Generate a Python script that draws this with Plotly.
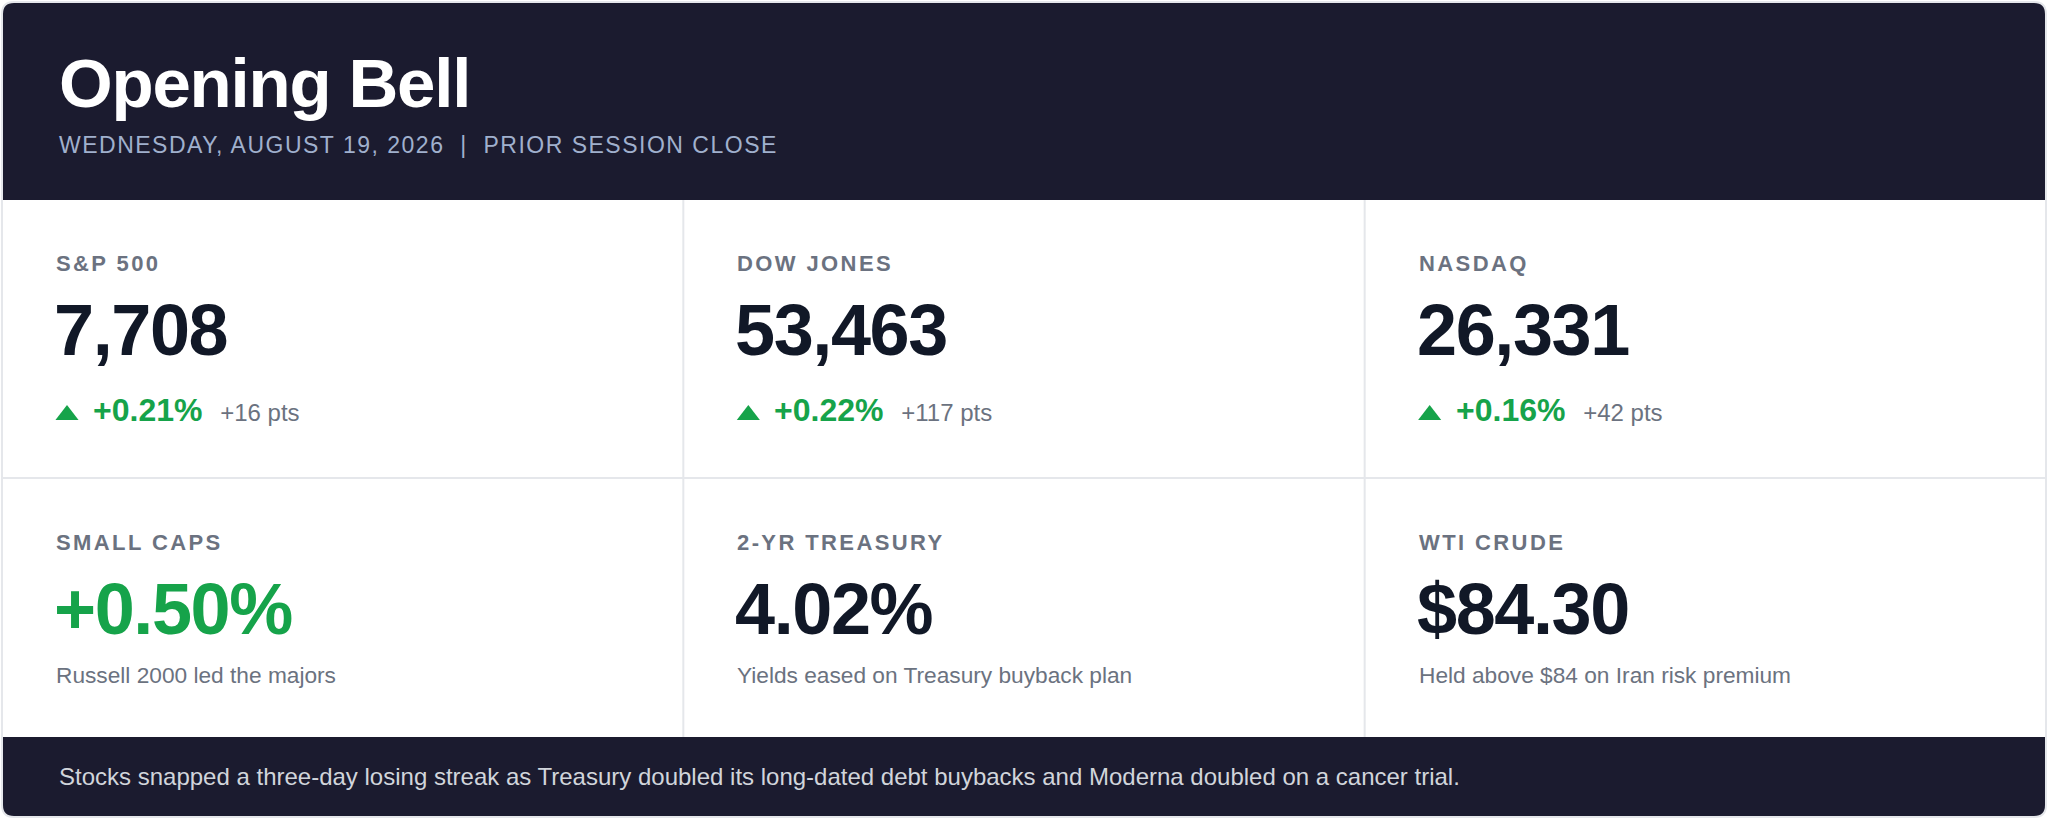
import plotly.graph_objects as go

# ---- data ----
title = "Opening Bell"
subtitle = "WEDNESDAY, AUGUST 19, 2026 &nbsp;|&nbsp; PRIOR SESSION CLOSE"

index_names = ["S&P 500", "DOW JONES", "NASDAQ"]
index_levels = [7708, 53463, 26331]
index_pct = [0.21, 0.22, 0.16]
index_pts = [16, 117, 42]

other_names = ["SMALL CAPS", "2-YR TREASURY", "WTI CRUDE"]
other_values = ["+0.50%", "4.02%", "$84.30"]
other_notes = ["Russell 2000 led the majors",
               "Yields eased on Treasury buyback plan",
               "Held above $84 on Iran risk premium"]
other_is_change = [True, False, False]

footer = ("Stocks snapped a three-day losing streak as Treasury doubled its long-dated "
          "debt buybacks and Moderna doubled on a cancer trial.")

# ---- style ----
W, H = 2048, 819
NAVY = "#1b1b2f"
INK = "#111827"
GREY = "#6b7280"
GREEN = "#16a34a"
LINE = "#e5e7eb"
FONT = "Liberation Sans, Arial, sans-serif"

L, R, T, B = 2, 2046, 2, 817
RAD = 12
HEAD_B = 200
FOOT_T = 737
ROW_SPLIT = 478
col_w = (R - L) / 3
col_x = [L + col_w * i + 53 for i in range(3)]
row_top = [HEAD_B, ROW_SPLIT]


def mid(baseline, size):
    # annotation box centre from a text baseline
    return baseline - 0.35 * size


fig = go.Figure()

card = (f"M{L},{T+RAD} Q{L},{T} {L+RAD},{T} L{R-RAD},{T} Q{R},{T} {R},{T+RAD} "
        f"L{R},{B-RAD} Q{R},{B} {R-RAD},{B} L{L+RAD},{B} Q{L},{B} {L},{B-RAD} Z")

shapes = []
shapes.append(dict(type="path", xref="x", yref="y", layer="below", path=card,
                   fillcolor="white", line=dict(width=0)))
# header band
shapes.append(dict(type="path", xref="x", yref="y", layer="below",
                   path=f"M{L},{HEAD_B} L{L},{T+RAD} Q{L},{T} {L+RAD},{T} L{R-RAD},{T} "
                        f"Q{R},{T} {R},{T+RAD} L{R},{HEAD_B} Z",
                   fillcolor=NAVY, line=dict(width=0)))
# footer band
shapes.append(dict(type="path", xref="x", yref="y", layer="below",
                   path=f"M{L},{FOOT_T} L{R},{FOOT_T} L{R},{B-RAD} Q{R},{B} {R-RAD},{B} "
                        f"L{L+RAD},{B} Q{L},{B} {L},{B-RAD} Z",
                   fillcolor=NAVY, line=dict(width=0)))
# grid lines
for i in (1, 2):
    x = L + col_w * i
    shapes.append(dict(type="line", xref="x", yref="y", x0=x, x1=x, y0=HEAD_B, y1=FOOT_T,
                       line=dict(color=LINE, width=2)))
shapes.append(dict(type="line", xref="x", yref="y", x0=L, x1=R, y0=ROW_SPLIT, y1=ROW_SPLIT,
                   line=dict(color=LINE, width=2)))
# outer border
shapes.append(dict(type="path", xref="x", yref="y", path=card, line=dict(color=LINE, width=2)))

ann = []


def text(x, y, s, size, color, bold=False, spacing=None):
    if spacing is not None:
        s = f'<span style="letter-spacing:{spacing}px">{s}</span>'
    ann.append(dict(x=x, y=y, xref="x", yref="y", text=s, showarrow=False,
                    xanchor="left", yanchor="middle", borderpad=0,
                    font=dict(family=FONT, size=size, color=color,
                              weight="bold" if bold else "normal")))


text(58, mid(108, 69), title, 69, "white", bold=True, spacing=-1.2)
text(58, mid(153, 23), subtitle, 23, "#a0b0cd", spacing=1.5)

# top row: index levels
for i in range(3):
    top = row_top[0]
    x = col_x[i]
    text(x, mid(top + 71, 22), index_names[i].replace("&", "&amp;"), 22, GREY, bold=True, spacing=2.4)
    text(x - 2, mid(top + 155, 72), f"{index_levels[i]:,}", 72, INK, bold=True, spacing=-1.4)
    chg = (f'<b>+{index_pct[i]:.2f}%</b>&nbsp;&nbsp;'
           f'<span style="font-size:24px;fill:{GREY}">+{index_pts[i]} pts</span>')
    text(x + 37, mid(top + 221, 32), chg, 32, GREEN)

# triangles for the index changes
fig.add_trace(go.Scatter(
    x=[c + 12 for c in col_x],
    y=[row_top[0] + 215] * 3,
    mode="markers",
    marker=dict(symbol="triangle-up", size=20, color=GREEN, line=dict(width=0)),
    hoverinfo="skip", showlegend=False))

# bottom row
for i in range(3):
    top = row_top[1]
    x = col_x[i]
    text(x, mid(top + 72, 22), other_names[i], 22, GREY, bold=True, spacing=2.4)
    text(x - 2, mid(top + 156, 72), other_values[i], 72,
         GREEN if other_is_change[i] else INK, bold=True, spacing=-1.4)
    text(x, mid(top + 205, 22.7), other_notes[i], 22.7, GREY)

text(58, mid(785, 24), footer, 24, "#d1d5db")

fig.update_layout(
    width=W, height=H,
    margin=dict(l=0, r=0, t=0, b=0),
    paper_bgcolor="white", plot_bgcolor="white",
    shapes=shapes, annotations=ann,
    xaxis=dict(range=[0, W], visible=False, fixedrange=True),
    yaxis=dict(range=[H, 0], visible=False, fixedrange=True),
    showlegend=False,
)

fig.write_html("out.html", config={"displayModeBar": False},
               post_script="document.body.style.margin='0';")
